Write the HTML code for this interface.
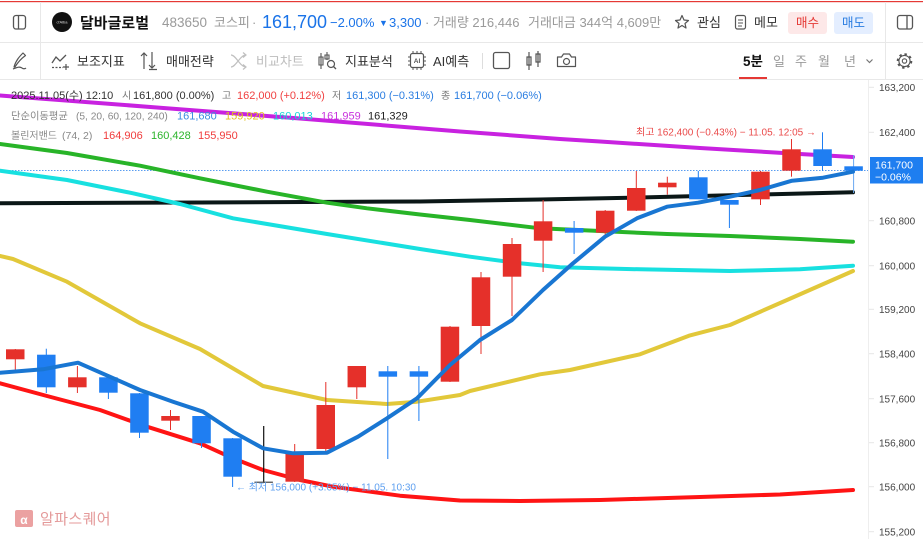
<!DOCTYPE html>
<html><head><meta charset="utf-8">
<style>
html,body{margin:0;padding:0;background:#fff;}
body{width:923px;height:539px;overflow:hidden;}
svg{display:block;}
text{font-family:"Liberation Sans","Noto Sans CJK KR",sans-serif;}
</style></head>
<body>
<svg width="923" height="539" viewBox="0 0 923 539" xmlns="http://www.w3.org/2000/svg">
<rect x="0" y="0" width="923" height="539" fill="#fff"/>
<!-- top red line -->
<rect x="0" y="1" width="923" height="1.2" fill="#e53935"/>
<!-- header separators -->
<rect x="0" y="42" width="923" height="1" fill="#e8e8e8"/>
<rect x="0" y="79" width="923" height="1" fill="#e8e8e8"/>
<rect x="40" y="2" width="1" height="77" fill="#e8e8e8"/>
<rect x="885" y="2" width="1" height="77" fill="#e8e8e8"/>

<!-- Row 1 -->
<g fill="none" stroke="#555" stroke-width="1.3">
  <rect x="13.5" y="15.5" width="12" height="13.5" rx="2.5"/>
  <line x1="18.5" y1="15.5" x2="18.5" y2="29"/>
  <rect x="897.5" y="15.5" width="15" height="13.5" rx="2.5"/>
  <line x1="907" y1="15.5" x2="907" y2="29"/>
</g>
<circle cx="62" cy="22" r="10" fill="#111"/>
<text x="62" y="23.5" font-size="4" fill="#ddd" text-anchor="middle">d'Alba</text>
<text x="80" y="28" font-size="15" font-weight="700" fill="#111">달바글로벌</text>
<text x="162" y="27" font-size="13.5" fill="#9a9a9a">483650</text>
<text x="214" y="27" font-size="13" fill="#9a9a9a">코스피</text>
<text x="252" y="27" font-size="13" fill="#9a9a9a">·</text>
<text x="262" y="28" font-size="18" fill="#1a73e8">161,700</text>
<text x="330" y="27" font-size="13" fill="#1a73e8">−2.00%</text>
<text x="379" y="26" font-size="9" fill="#1a73e8">▼</text>
<text x="389" y="27" font-size="13" fill="#1a73e8">3,300</text>
<text x="425" y="27" font-size="13" fill="#9a9a9a">· 거래량 216,446</text>
<text x="528" y="27" font-size="13" fill="#9a9a9a">거래대금 344억 4,609만</text>
<path d="M682 15.5 L684 20 L688.5 20.5 L685 23.5 L686 28 L682 25.5 L678 28 L679 23.5 L675.5 20.5 L680 20 Z" fill="none" stroke="#555" stroke-width="1.2" stroke-linejoin="round"/>
<text x="697" y="27" font-size="13" fill="#333">관심</text>
<rect x="735.5" y="15.5" width="10" height="13.5" rx="2" fill="none" stroke="#555" stroke-width="1.2"/>
<line x1="738" y1="20" x2="743" y2="20" stroke="#555" stroke-width="1"/>
<line x1="738" y1="23" x2="743" y2="23" stroke="#555" stroke-width="1"/>
<line x1="738" y1="26" x2="742" y2="26" stroke="#555" stroke-width="1"/>
<text x="754" y="27" font-size="13" fill="#333">메모</text>
<rect x="788" y="12" width="39" height="22" rx="3" fill="#fde8e8"/>
<text x="807.5" y="27" font-size="12.5" fill="#e53935" text-anchor="middle">매수</text>
<rect x="834" y="12" width="39" height="22" rx="3" fill="#e4eeff"/>
<text x="853.5" y="27" font-size="12.5" fill="#2a7de1" text-anchor="middle">매도</text>

<!-- Row 2 -->
<path d="M14 67 C16 60, 20 56, 23 53 L25.5 55.5 C22 58, 18 62, 15 67 Z M13 69 C16 68, 19 66, 22 68 C23 69, 25 69, 26 68" fill="none" stroke="#555" stroke-width="1.2" stroke-linejoin="round"/>
<polyline points="52,63 56,57 60,61 66,55" fill="none" stroke="#555" stroke-width="1.3"/>
<line x1="52" y1="67.5" x2="63" y2="67.5" stroke="#555" stroke-width="1.2" stroke-dasharray="2 1.5"/>
<path d="M66 64 V70 M63 67 H69" stroke="#555" stroke-width="1.2"/>
<text x="77" y="66" font-size="13" fill="#333">보조지표</text>
<path d="M144 69 V53 M141 56 L144 53 L147 56 M152 52 V68 M149 65 L152 68 L155 65 M149 69.5 H157" fill="none" stroke="#555" stroke-width="1.2"/>
<text x="166" y="66" font-size="13" fill="#333">매매전략</text>
<path d="M231 55 C236 55, 240 67, 246 67 M231 67 C236 67, 240 55, 246 55 M243 52.5 L246 55 L243 57.5 M243 64.5 L246 67 L243 69.5" fill="none" stroke="#c0c0c0" stroke-width="1.2"/>
<text x="256" y="66" font-size="13" fill="#bdbdbd">비교차트</text>
<path d="M321 53 V69 M319 57 h4 v8 h-4 z M327 52 V60 M325 55 h4 v4 h-4 z" fill="none" stroke="#555" stroke-width="1.1"/>
<circle cx="331" cy="64" r="3.5" fill="none" stroke="#555" stroke-width="1.2"/>
<line x1="333.5" y1="66.5" x2="336" y2="69" stroke="#555" stroke-width="1.3"/>
<text x="345" y="66" font-size="13" fill="#333">지표분석</text>
<rect x="410.5" y="53.5" width="13" height="14" rx="2" fill="none" stroke="#555" stroke-width="1.2"/>
<path d="M413 53.5 V51 M417 53.5 V51 M421 53.5 V51 M413 67.5 V70 M417 67.5 V70 M421 67.5 V70 M410.5 57 H408 M410.5 61 H408 M410.5 65 H408 M423.5 57 H426 M423.5 61 H426 M423.5 65 H426" stroke="#555" stroke-width="1"/>
<text x="417" y="63" font-size="6.5" font-weight="700" fill="#555" text-anchor="middle">AI</text>
<text x="433" y="66" font-size="13" fill="#333">AI예측</text>
<rect x="482" y="53" width="1" height="16" fill="#ddd"/>
<rect x="493.5" y="52.5" width="16" height="16" rx="2" fill="none" stroke="#555" stroke-width="1.3"/>
<path d="M529 52 V70 M527 57 h4 v8 h-4 z M538 51 V67 M536 54 h4 v8 h-4 z" fill="none" stroke="#555" stroke-width="1.2"/>
<path d="M557.5 57 h4 l2 -3 h6 l2 3 h4 v9.5 h-18 z" fill="none" stroke="#555" stroke-width="1.2" stroke-linejoin="round"/>
<circle cx="566.5" cy="61.5" r="3" fill="none" stroke="#555" stroke-width="1.2"/>
<text x="743" y="66" font-size="13.5" font-weight="700" fill="#111">5분</text>
<rect x="739" y="77" width="28" height="2" fill="#e53935"/>
<text x="773" y="66" font-size="13" fill="#9a9a9a">일</text>
<text x="795" y="66" font-size="13" fill="#9a9a9a">주</text>
<text x="818" y="66" font-size="13" fill="#9a9a9a">월</text>
<text x="844" y="66" font-size="13" fill="#9a9a9a">년</text>
<polyline points="866.5,59.5 869.5,62.5 872.5,59.5" fill="none" stroke="#777" stroke-width="1.2"/>
<circle cx="904.5" cy="61" r="6.8" fill="none" stroke="#555" stroke-width="2" stroke-dasharray="2.4 2.9"/>
<circle cx="904.5" cy="61" r="5.6" fill="#fff" stroke="#555" stroke-width="1.1"/>
<circle cx="904.5" cy="61" r="2.2" fill="none" stroke="#555" stroke-width="1.1"/>

<!-- y-axis -->
<rect x="868" y="80" width="1" height="459" fill="#eeeeee"/>
<g font-size="10" fill="#444">
<text x="879" y="91">163,200</text>
<text x="879" y="136">162,400</text>
<text x="879" y="224.5">160,800</text>
<text x="879" y="269.5">160,000</text>
<text x="879" y="313">159,200</text>
<text x="879" y="357.5">158,400</text>
<text x="879" y="402.5">157,600</text>
<text x="879" y="446.5">156,800</text>
<text x="879" y="490.5">156,000</text>
<text x="879" y="535.5">155,200</text>
</g>
<g stroke="#e6e6e6" stroke-width="1">
<line x1="869" y1="87.3" x2="874" y2="87.3"/><line x1="869" y1="132.3" x2="874" y2="132.3"/>
<line x1="869" y1="220.7" x2="874" y2="220.7"/><line x1="869" y1="265.7" x2="874" y2="265.7"/>
<line x1="869" y1="309.3" x2="874" y2="309.3"/><line x1="869" y1="353.7" x2="874" y2="353.7"/>
<line x1="869" y1="398.7" x2="874" y2="398.7"/><line x1="869" y1="442.7" x2="874" y2="442.7"/>
<line x1="869" y1="486.7" x2="874" y2="486.7"/><line x1="869" y1="531.7" x2="874" y2="531.7"/>
</g>

<!-- current price dotted line -->
<line x1="0" y1="170.5" x2="868" y2="170.5" stroke="#5a9df0" stroke-width="1" stroke-dasharray="1.5 1.5"/>

<!-- MA / BB lines -->
<g fill="none" stroke-width="4" stroke-linejoin="round" stroke-linecap="round">
<polyline stroke="#c822e0" points="0,95.5 160,107.7 300,118.5 460,131.5 560,139 600,141.5 700,148 800,154 853,157"/>
<polyline stroke="#0b1717" points="0,203.3 200,202.5 420,201.5 540,199.5 640,197.5 740,195 853,192.3"/>
<polyline stroke="#28b428" points="0,144 67,153 140,165.7 200,178.3 267,191.7 327,202.7 367,208.3 420,214.5 470,220 540,228.3 600,231 667,234 730,236 800,239 853,241.7"/>
<polyline stroke="#18e0e0" points="0,170.7 67,180 133,193.3 180,204 233,218.3 327,234 420,249 470,256.7 520,263.3 560,267.3 640,269.3 730,271 800,269.3 853,265.7"/>
<polyline stroke="#e2c83a" points="0,256 13,259 67,281.7 140,323.3 200,349 263,386 327,400 387,404 417,401.7 460,395 470,391 540,374.3 570,370 640,354.3 689,335.7 730,325 787,300 853,271"/>
<polyline stroke="#ff1414" points="0,383.3 47,396 100,410 147,426.7 200,443.3 233,458.3 263,470 300,480 333,486.7 400,495.7 460,500.5 520,501 600,500 700,497 780,494.5 853,490"/>
</g>

<!-- candles -->
<g>
<g fill="#e5302a">
<rect x="14.8" y="349" width="1" height="21"/>
<rect x="76.9" y="366" width="1" height="27"/>
<rect x="170" y="410" width="1" height="20"/>
<rect x="294.2" y="444" width="1" height="38"/>
<rect x="325.3" y="382" width="1" height="72"/>
<rect x="356.3" y="366" width="1" height="33"/>
<rect x="449.5" y="326" width="1" height="56"/>
<rect x="480.5" y="272" width="1" height="82"/>
<rect x="511.5" y="238" width="1" height="78"/>
<rect x="542.6" y="200" width="1" height="72"/>
<rect x="604.7" y="210" width="1" height="28"/>
<rect x="635.8" y="171" width="1" height="40"/>
<rect x="666.8" y="176.7" width="1" height="18"/>
<rect x="760" y="171" width="1" height="34"/>
<rect x="791" y="139" width="1" height="37.7"/>
</g>
<g fill="#1f7ef2">
<rect x="45.8" y="348.7" width="1" height="44.3"/>
<rect x="107.9" y="377" width="1" height="22"/>
<rect x="139" y="393" width="1" height="45"/>
<rect x="201" y="416" width="1" height="32"/>
<rect x="232.1" y="438" width="1" height="49"/>
<rect x="387.3" y="366" width="1" height="93"/>
<rect x="418.4" y="366" width="1" height="55"/>
<rect x="573.6" y="221" width="1" height="33"/>
<rect x="697.8" y="171" width="1" height="28"/>
<rect x="728.9" y="200" width="1" height="28"/>
<rect x="822" y="132.3" width="1" height="38.4"/>
</g>
<rect x="853.1" y="155" width="1" height="38" fill="#6aa8f0"/>
<rect x="263.1" y="426" width="1.2" height="57" fill="#111"/>
<rect x="254.4" y="481.6" width="18.5" height="1.3" fill="#555"/>
<g fill="#e5302a">
<rect x="6" y="349.3" width="18.5" height="10"/>
<rect x="68.1" y="377.3" width="18.5" height="10"/>
<rect x="161.25" y="416" width="18.5" height="4.7"/>
<rect x="285.45" y="454" width="18.5" height="27.7"/>
<rect x="316.5" y="405" width="18.5" height="44"/>
<rect x="347.55" y="366" width="18.5" height="21.3"/>
<rect x="440.7" y="326.7" width="18.5" height="55"/>
<rect x="471.75" y="277.3" width="18.5" height="48.7"/>
<rect x="502.8" y="244" width="18.5" height="32.7"/>
<rect x="533.85" y="221.3" width="18.5" height="19.4"/>
<rect x="595.95" y="210.7" width="18.5" height="22"/>
<rect x="627" y="188" width="18.5" height="22.7"/>
<rect x="658.05" y="182.7" width="18.5" height="4.6"/>
<rect x="751.2" y="171.7" width="18.5" height="27.6"/>
<rect x="782.25" y="149.3" width="18.5" height="21.4"/>
</g>
<g fill="#1f7ef2">
<rect x="37.05" y="354.7" width="18.5" height="32.6"/>
<rect x="99.15" y="377.3" width="18.5" height="15.4"/>
<rect x="130.2" y="393.3" width="18.5" height="39.4"/>
<rect x="192.3" y="416" width="18.5" height="27.3"/>
<rect x="223.35" y="438.3" width="18.5" height="38.4"/>
<rect x="378.6" y="371.3" width="18.5" height="5.4"/>
<rect x="409.65" y="371.3" width="18.5" height="5.4"/>
<rect x="564.9" y="228" width="18.5" height="4.7"/>
<rect x="689.1" y="177.3" width="18.5" height="22"/>
<rect x="720.15" y="200" width="18.5" height="4.7"/>
<rect x="813.3" y="149.3" width="18.5" height="16.7"/>
<rect x="844.35" y="166.3" width="18.5" height="4.4"/>
</g>
</g>

<!-- MA5 blue on top -->
<polyline fill="none" stroke="#1976d2" stroke-width="4" stroke-linejoin="round" stroke-linecap="round" points="0,372.7 43,369.3 78,362.7 140,390 173,401.7 203,411.7 233,431.7 263,448.3 293,453.3 327,452.7 358,436.7 387,418.3 417,398.3 450,365 480,340 512,320 543,290 573,263.3 605,236.7 637,218.3 667,206.7 698,202.7 730,196.7 760,190 792,180.7 823,177.7 853,171.7"/>

<!-- price box -->
<rect x="870" y="157" width="53" height="26.5" fill="#1e7ef0"/>
<text x="875" y="168.5" font-size="10.5" fill="#fff">161,700</text>
<text x="875" y="180.5" font-size="10.5" fill="#fff">−0.06%</text>

<!-- annotations -->
<text x="636" y="135.5" font-size="10" fill="#ea4a4a">최고 162,400 (−0.43%) − 11.05. 12:05 →</text>
<text x="236" y="490.5" font-size="10" fill="#5fa0f0">← 최저 156,000 (+3.65%) − 11.05. 10:30</text>

<!-- legend -->
<g font-size="11">
<text x="11" y="99" fill="#333">2025.11.05(수) 12:10</text>
<text x="122" y="99" fill="#777" font-size="10">시</text>
<text x="133" y="99" fill="#333">161,800 (0.00%)</text>
<text x="222" y="99" fill="#777" font-size="10">고</text>
<text x="237" y="99" fill="#f04040">162,000 (+0.12%)</text>
<text x="332" y="99" fill="#777" font-size="10">저</text>
<text x="346" y="99" fill="#2a7de1">161,300 (−0.31%)</text>
<text x="441" y="99" fill="#777" font-size="10">종</text>
<text x="454" y="99" fill="#2a7de1">161,700 (−0.06%)</text>

<text x="11" y="119.5" fill="#888" font-size="10.3">단순이동평균</text>
<text x="76" y="119.5" fill="#888" font-size="10.2">(5, 20, 60, 120, 240)</text>
<text x="177" y="119.5" fill="#3b8ee0">161,680</text>
<text x="225" y="119.5" fill="#e0bf20">159,920</text>
<text x="273" y="119.5" fill="#18d5d5">160,013</text>
<text x="321" y="119.5" fill="#c933dd">161,959</text>
<text x="368" y="119.5" fill="#222">161,329</text>

<text x="11" y="139" fill="#888" font-size="10">볼린저밴드</text>
<text x="62" y="139" fill="#888" font-size="10.5">(74, 2)</text>
<text x="103" y="139" fill="#f03c3c">164,906</text>
<text x="151" y="139" fill="#2db52d">160,428</text>
<text x="198" y="139" fill="#f03c3c">155,950</text>
</g>

<!-- watermark -->
<rect x="15" y="510" width="18" height="17" rx="2" fill="#e89090" opacity="0.85"/>
<text x="24" y="524" font-size="12" fill="#fff" text-anchor="middle" font-weight="700">α</text>
<text x="40" y="524" font-size="15" fill="#e49a9a" letter-spacing="0.4">알파스퀘어</text>
</svg>
</body></html>
